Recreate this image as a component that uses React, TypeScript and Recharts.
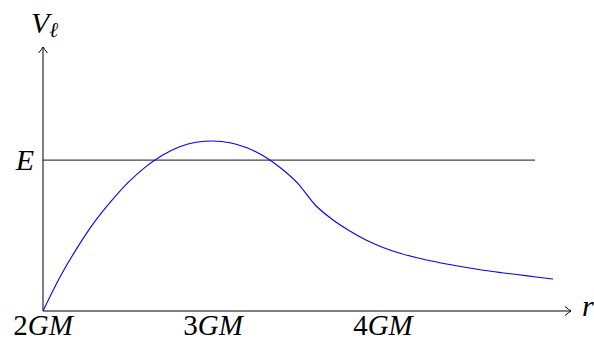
import { LineChart, Line, XAxis, YAxis, ReferenceLine, ReferenceDot } from 'recharts';

// radius in units of GM, potential scaled so the barrier peak is 1
const radius = [
  2.0, 2.1, 2.2, 2.3, 2.4, 2.5, 2.6, 2.7, 2.8, 2.9, 3.0, 3.1, 3.2, 3.3, 3.4, 3.5,
  3.6, 3.7, 3.8, 3.9, 4.0, 4.1, 4.2, 4.3, 4.4, 4.5, 4.6, 4.7, 4.8, 4.9, 5.0,
];
const potential = [
  0, 0.2, 0.37, 0.52, 0.645, 0.755, 0.845, 0.915, 0.965, 0.993, 1.0, 0.99, 0.96, 0.91, 0.84, 0.75,
  0.625, 0.54, 0.474, 0.418, 0.374, 0.34, 0.313, 0.291, 0.272, 0.254, 0.238, 0.225, 0.213, 0.2, 0.188,
];
const energy = 0.888;
const energyEnd = 4.894;
const xTicks = [2, 3, 4];
const xTickLabels = ['2', '3', '4'];
const xMax = 5.106;
const yMax = 1.553;

const data = radius.map((r, i) => ({ r, v: potential[i] }));

const FONT = '"Liberation Serif", serif';

const XTick = ({ x, payload }: any) => {
  const idx = xTicks.indexOf(payload.value);
  return (
    <text x={x} y={335} textAnchor="middle" fontFamily={FONT} fontSize={29} fill="#000">
      {xTickLabels[idx]}
      <tspan fontStyle="italic">GM</tspan>
    </text>
  );
};

const YTick = ({ x, y }: any) => (
  <text x={x - 1} y={y + 10} textAnchor="end" fontFamily={FONT} fontSize={30} fontStyle="italic" fill="#000">
    E
  </text>
);

const RightArrow = ({ cx, cy }: any) => (
  <g>
    <path
      d={`M${cx - 6},${cy - 4.5} Q${cx - 2},${cy - 1} ${cx},${cy} Q${cx - 2},${cy + 1} ${cx - 6},${cy + 4.5}`}
      stroke="#000"
      strokeWidth={1}
      fill="none"
    />
    <text x={cx + 11} y={cy + 5} fontFamily={FONT} fontSize={30} fontStyle="italic" fill="#000">
      r
    </text>
  </g>
);

const UpArrow = ({ cx, cy }: any) => (
  <g>
    <path
      d={`M${cx - 4.5},${cy + 6} Q${cx - 1},${cy + 2} ${cx},${cy} Q${cx + 1},${cy + 2} ${cx + 4.5},${cy + 6}`}
      stroke="#000"
      strokeWidth={1}
      fill="none"
    />
    <text x={cx - 12} y={cy - 14} fontFamily={FONT} fontSize={30} fontStyle="italic" fill="#000">
      V
      <tspan fontSize={21} dy={4}>ℓ</tspan>
    </text>
  </g>
);

export default function App() {
  return (
    <div style={{ position: 'absolute', left: 0, top: 0, width: 594, height: 342 }}>
      <LineChart width={594} height={342} data={data} margin={{ top: 47, right: 23, left: 0, bottom: 0 }}>
        <XAxis
          dataKey="r"
          type="number"
          domain={[2, xMax]}
          ticks={xTicks}
          tick={<XTick />}
          tickLine={false}
          height={31}
          axisLine={{ stroke: '#000', strokeWidth: 1 }}
          allowDataOverflow
        />
        <YAxis
          type="number"
          domain={[0, yMax]}
          ticks={[energy]}
          tick={<YTick />}
          tickLine={false}
          width={43}
          axisLine={{ stroke: '#000', strokeWidth: 1 }}
          allowDataOverflow
        />
        <ReferenceLine
          segment={[
            { x: 2, y: energy },
            { x: energyEnd, y: energy },
          ]}
          stroke="#444"
          strokeWidth={1.3}
        />
        <Line
          type="monotone"
          dataKey="v"
          stroke="#0000ff"
          strokeWidth={1.1}
          dot={false}
          isAnimationActive={false}
        />
        <ReferenceDot x={xMax} y={0} r={0} shape={<RightArrow />} ifOverflow="visible" />
        <ReferenceDot x={2} y={yMax} r={0} shape={<UpArrow />} ifOverflow="visible" />
      </LineChart>
    </div>
  );
}
